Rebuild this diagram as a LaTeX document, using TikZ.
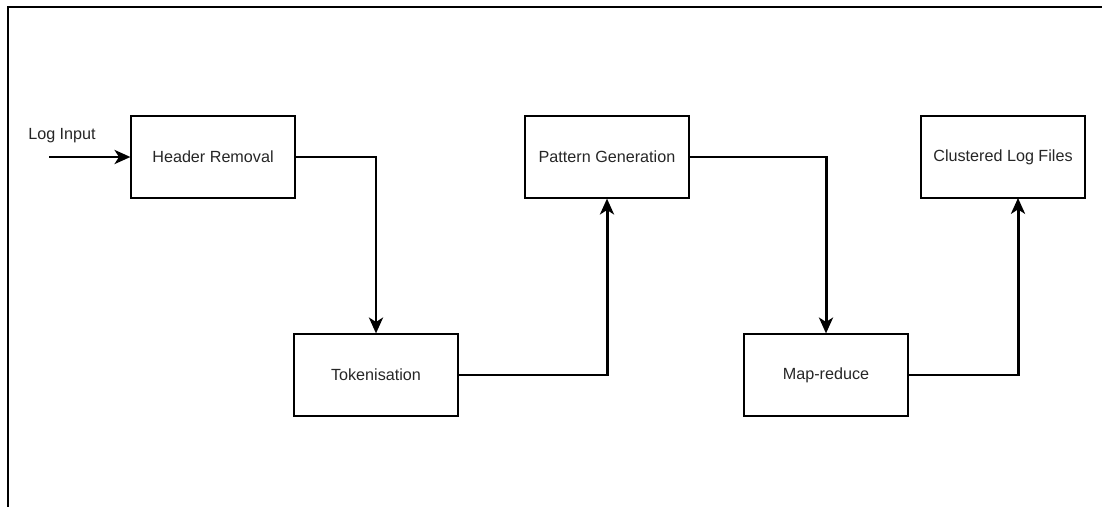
\documentclass[tikz,border=0pt]{standalone}
\usepackage{fontspec}
\setmainfont{Liberation Sans}
\usetikzlibrary{arrows.meta}
\tikzset{
  stage/.style={draw, line width=0.7pt, minimum width=3.28cm, minimum height=1.64cm, font=\fontsize{9.2}{11}\selectfont, text=black!85},
  flow/.style={line width=1.7pt, -{Stealth[length=9pt, width=8pt, inset=2.5pt]}}
}
\begin{document}
\begin{tikzpicture}[x=0.02cm, y=-0.02cm]
\useasboundingbox (0,0) rectangle (1102,507);

% Frame
\draw[line width=0.9pt] (8,507) -- (8,7) -- (1102,7);

% Stages
\node[stage] (header) at (213,157) {Header Removal};
\node[stage] (token) at (376,375) {Tokenisation};
\node[stage] (pattern) at (607,157) {Pattern Generation};
\node[stage] (mapred) at (826,375) {Map-reduce};
\node[stage] (clustered) at (1003,157) {Clustered Log Files};

% Input
\node[font=\fontsize{9.2}{11}\selectfont, text=black!85] (loginput) at (62,136) {Log Input};
\coordinate (start) at (49,157);
\coordinate (endin) at (1018,198);

% Connectors
\draw[flow] (start) -- (header.west);
\draw[flow] (header.east) -| (token.north);
\draw[flow] (token.east) -| (pattern.south);
\draw[flow] (pattern.east) -| (mapred.north);
\draw[flow] (mapred.east) -| (endin);
\end{tikzpicture}
\end{document}
